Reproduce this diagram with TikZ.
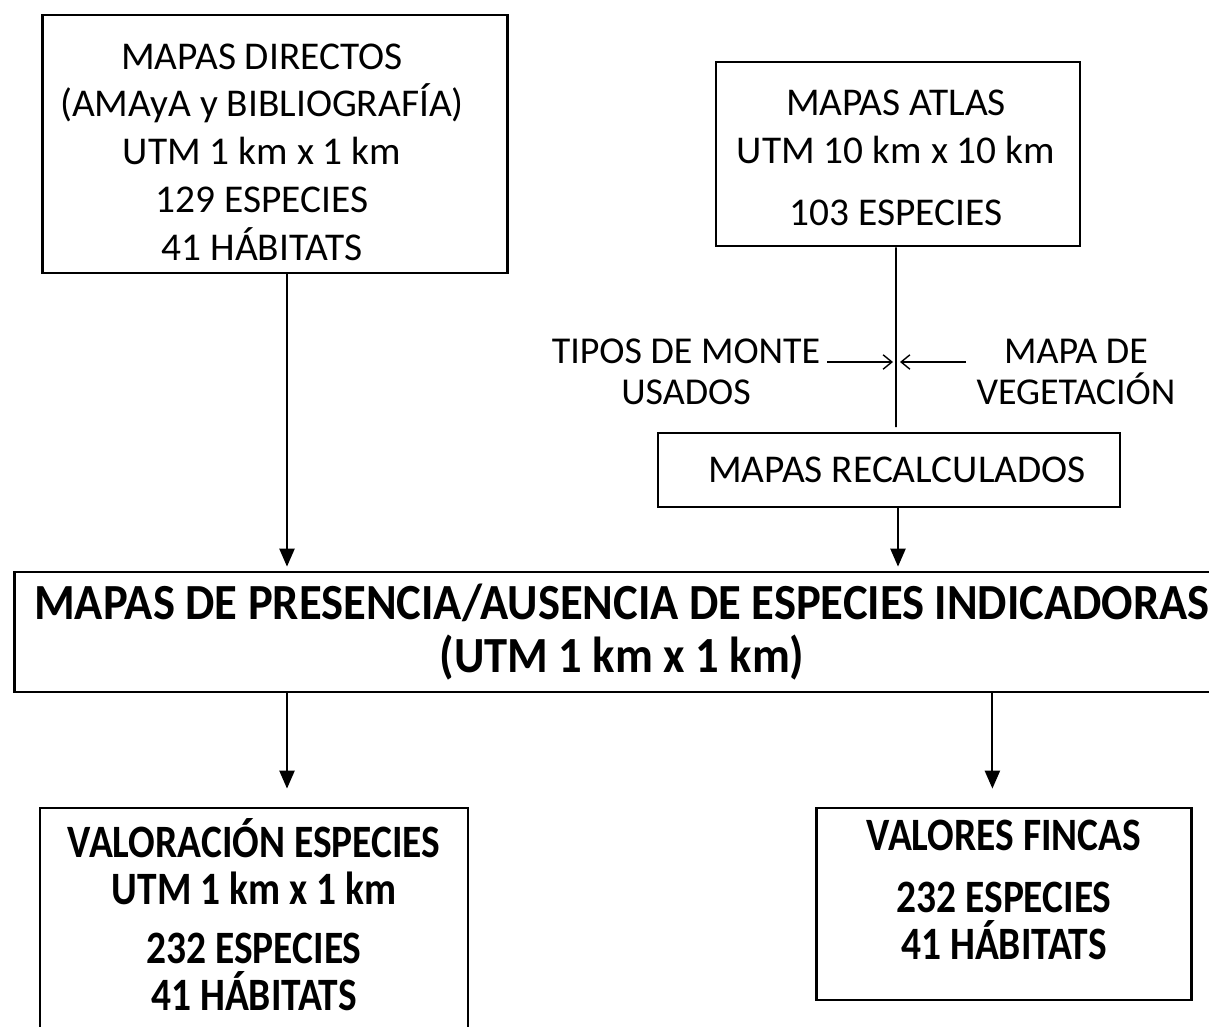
\documentclass[tikz,border=0pt]{standalone}
\usepackage{fontspec}
\setmainfont{Carlito}
\newfontfamily\condfont[FakeStretch=0.85]{Carlito}
\newfontfamily\widefont[FakeStretch=0.92]{Carlito}
\usetikzlibrary{arrows.meta,positioning}
\tikzset{
  box/.style={draw=black, line width=2pt, align=center, inner sep=0pt},
  thintext/.style={font=\fontsize{28}{34}\selectfont, align=center, inner sep=0pt},
  sidetext/.style={font=\fontsize{27}{29}\selectfont, align=center},
  boldtext/.style={font=\condfont\bfseries\fontsize{33}{33.5}\selectfont, align=center, inner sep=0pt},
  maintext/.style={font=\widefont\bfseries\fontsize{36}{38}\selectfont},
  flow/.style={line width=1.3pt, -{Triangle[length=0.45cm,width=0.38cm]}},
  side/.style={line width=1pt, -{Straight Barb[length=0.22cm,width=0.36cm]}}
}
\begin{document}
\begin{tikzpicture}[x=0.025cm, y=-0.025cm]
\clip (0,0) rectangle (1209,1026);
\node[box, minimum width=11.63cm, minimum height=6.45cm] (direct) at (275,144) {};
\node[thintext] (directtext) at (262,152)
  {MAPAS DIRECTOS\\(AMAyA y BIBLIOGRAFÍA)\\UTM 1 km x 1 km\\129 ESPECIES\\41 HÁBITATS};
\node[box, minimum width=9.1cm, minimum height=4.6cm] (atlas) at (898,154) {};
\node[thintext] (atlastext) at (896,158)
  {MAPAS ATLAS\\UTM 10 km x 10 km\\[10pt]103 ESPECIES};
\node[box, thintext, minimum width=11.55cm, minimum height=1.85cm] (recalc) at (889,470)
  {\hspace*{0.4cm}MAPAS RECALCULADOS};
\node[box, maintext, minimum width=30.375cm, minimum height=3cm] (main) at (622,632)
  {MAPAS DE PRESENCIA/AUSENCIA DE ESPECIES INDICADORAS\\(UTM 1 km x 1 km)};
\node[box, minimum width=10.7cm, minimum height=5.8cm] (valor) at (254,924) {};
\node[boldtext, anchor=north] (valortext) at ([yshift=-0.3cm]valor.north)
  {VALORACIÓN ESPECIES\\UTM 1 km x 1 km\\[8pt]232 ESPECIES\\41 HÁBITATS};
\node[box, minimum width=9.375cm, minimum height=4.8cm] (fincas) at (1004,904) {};
\node[boldtext, anchor=north] (fincastext) at ([yshift=-0.34cm]fincas.north)
  {VALORES FINCAS\\[10pt]232 ESPECIES\\41 HÁBITATS};
\node[sidetext] (tipos) at (686,372) {TIPOS DE MONTE\\USADOS};
\node[sidetext] (vege) at (1076,372) {MAPA DE\\VEGETACIÓN};
\coordinate (join) at (896,427);
\coordinate (tl) at (827,362);
\coordinate (tr) at (893,362);
\coordinate (vl) at (900,362);
\coordinate (vr) at (966,362);
\draw[line width=1.3pt] ([xshift=-0.05cm]atlas.south) -- (join);
\draw[side] (tl) -- (tr);
\draw[side] (vr) -- (vl);
\draw[flow, shorten >=0.1cm] ([xshift=0.3cm]direct.south) -- ([xshift=0.3cm]direct.south |- main.north);
\draw[flow, shorten >=0.1cm] ([xshift=0.225cm]recalc.south) -- ([xshift=0.225cm]recalc.south |- main.north);
\draw[flow, shorten >=0.45cm] ([xshift=0.825cm]valor.north |- main.south) -- ([xshift=0.825cm]valor.north);
\draw[flow, shorten >=0.45cm] ([xshift=-0.29cm]fincas.north |- main.south) -- ([xshift=-0.29cm]fincas.north);
\end{tikzpicture}
\end{document}
